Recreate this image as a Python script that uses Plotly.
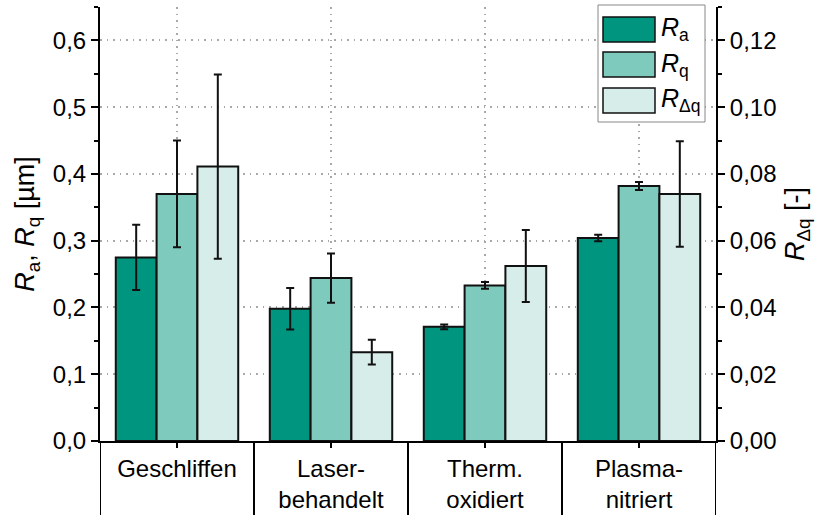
import plotly.graph_objects as go

categories = ["Geschliffen", "Laser-<br>behandelt", "Therm.<br>oxidiert", "Plasma-<br>nitriert"]
ra_values = [0.275, 0.198, 0.171, 0.304]
ra_errors = [0.049, 0.031, 0.0035, 0.005]
rq_values = [0.370, 0.244, 0.233, 0.382]
rq_errors = [0.080, 0.037, 0.005, 0.006]
rdq_values = [0.0822, 0.0266, 0.0524, 0.0740]
rdq_errors = [0.0276, 0.0037, 0.0108, 0.0158]

left_ticks = [0.0, 0.1, 0.2, 0.3, 0.4, 0.5, 0.6]
right_ticks = [0.00, 0.02, 0.04, 0.06, 0.08, 0.10, 0.12]

c_ra = "#00957f"
c_rq = "#7ecabd"
c_rdq = "#d7ede9"
FONT = "Arial, Liberation Sans, sans-serif"
FS = 24
FT = 27

W, H = 821, 515
L, R, T, B = 100, 105, 7, 74

bw = 0.265
err_style = dict(type="data", thickness=2, width=4, color="#111")

fig = go.Figure()
fig.add_trace(go.Bar(x=categories, y=ra_values, width=bw, offset=-1.5 * bw,
                     marker=dict(color=c_ra, line=dict(color="#111", width=2)),
                     error_y=dict(array=ra_errors, **err_style), yaxis="y", showlegend=False))
fig.add_trace(go.Bar(x=categories, y=rq_values, width=bw, offset=-0.5 * bw,
                     marker=dict(color=c_rq, line=dict(color="#111", width=2)),
                     error_y=dict(array=rq_errors, **err_style), yaxis="y", showlegend=False))
fig.add_trace(go.Bar(x=categories, y=rdq_values, width=bw, offset=0.5 * bw,
                     marker=dict(color=c_rdq, line=dict(color="#111", width=2)),
                     error_y=dict(array=rdq_errors, **err_style), yaxis="y2", showlegend=False))

grid = dict(showgrid=True, gridcolor="#a8a8a8", griddash="1.5px,5px", gridwidth=1.5)

fig.update_layout(
    width=W, height=H, autosize=False,
    margin=dict(l=L, r=R, t=T, b=B, pad=0, autoexpand=False),
    paper_bgcolor="white", plot_bgcolor="white",
    separators=",.",
    font=dict(family=FONT, size=FS, color="black"),
    barmode="overlay",
    xaxis=dict(type="category", range=[-0.5, 3.5], showline=True, linecolor="black", linewidth=2,
               ticks="outside", ticklen=5, tickwidth=2, tickcolor="black", automargin=False,
               tickfont=dict(size=24), **grid),
    yaxis=dict(range=[0, 0.65], tickvals=left_ticks, tickformat=".1f", automargin=False,
               showline=True, linecolor="black", linewidth=2,
               ticks="outside", ticklen=7, tickwidth=2, tickcolor="black",
               minor=dict(dtick=0.05, ticklen=4, tickwidth=2, tickcolor="black", showgrid=False),
               title=dict(text="<i>R</i><sub>a</sub>, <i>R</i><sub>q</sub> [µm]", font=dict(size=FT), standoff=10),
               zeroline=False, **grid),
    yaxis2=dict(range=[0, 0.13], tickvals=right_ticks, tickformat=".2f", overlaying="y", side="right",
                showline=True, linecolor="black", linewidth=2, automargin=False,
                ticks="outside", ticklen=7, tickwidth=2, tickcolor="black",
                minor=dict(dtick=0.01, ticklen=4, tickwidth=2, tickcolor="black", showgrid=False),
                title=dict(text="<i>R</i><sub>Δq</sub> [-]", font=dict(size=FT), standoff=10),
                showgrid=False, zeroline=False),
)

# category divider lines below the axis
pw, ph = W - L - R, H - T - B
for xv in [-0.5, 0.5, 1.5, 2.5, 3.5]:
    fig.add_shape(type="line", xref="x", yref="paper", x0=xv, x1=xv, y0=0, y1=-B / ph,
                  line=dict(color="black", width=2), layer="above")

# custom legend
def px_x(p):
    return (p - L) / pw

def px_y(p):
    return (H - B - p) / ph

fig.add_shape(type="rect", xref="paper", yref="paper", x0=px_x(598), x1=px_x(705),
              y0=px_y(122), y1=px_y(5), line=dict(color="#888", width=1), fillcolor="white", layer="above")
legend_items = [("<i>R</i><sub>a</sub>", c_ra, 17), ("<i>R</i><sub>q</sub>", c_rq, 52), ("<i>R</i><sub>Δq</sub>", c_rdq, 88)]
for label, col, top in legend_items:
    fig.add_shape(type="rect", xref="paper", yref="paper", x0=px_x(603), x1=px_x(655),
                  y0=px_y(top + 25), y1=px_y(top), line=dict(color="#111", width=1.5), fillcolor=col, layer="above")
    fig.add_annotation(xref="paper", yref="paper", x=px_x(659), y=px_y(top + 12.5), text=label,
                       showarrow=False, xanchor="left", yanchor="middle", font=dict(size=25))

fig.write_html("out.html")
